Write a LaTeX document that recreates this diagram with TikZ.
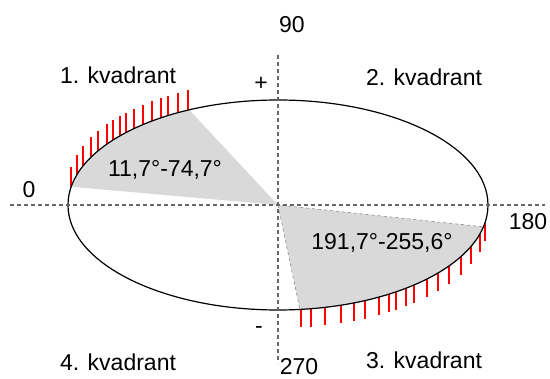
\documentclass[tikz,border=0pt]{standalone}
\usepackage{fontspec}
\setmainfont{Liberation Sans}
\usepackage{tikz}

\begin{document}
\begin{tikzpicture}[x=1pt, y=1pt, every node/.style={font=\fontsize{23}{27}\selectfont, inner sep=0pt},
	axis/.style={draw=black!60, dashed, dash pattern=on 4pt off 3pt, line width=1.2pt},
	sector/.style={fill=black!15},
	tick/.style={draw=red, line width=1.8pt}]
	\useasboundingbox (-278,-174) rectangle (272,205);
	% shaded sectors
	\fill[sector] (0,0) -- (115:210 and 105) arc[start angle=115, end angle=170, x radius=210, y radius=105] -- cycle;
	\filldraw[sector, draw=black!45, dashed, line width=0.6pt] (0,0) -- (276:210 and 105) arc[start angle=276, end angle=348, x radius=210, y radius=105] -- cycle;
	% red marks
	\foreach \x in {-207,-201,-195,-187,-180,-171,-165,-158,-152,-144,-135,-126,-117,-110,-100,-90}
		\draw[tick] ({\x},{105*sqrt(1-(\x/210)^2)}) -- ++(0,20);
	\foreach \x in {23,33,47,63,76,87,101,111,118,128,136,149,160,171,183,193,202,207}
		\draw[tick] ({\x},{-105*sqrt(1-(\x/210)^2)}) -- ++(0,-18);
	\draw[line width=1.2pt] (0,0) ellipse[x radius=210, y radius=105];
	% axes
	\coordinate (W) at (-268,0);
	\coordinate (E) at (267,0);
	\coordinate (N) at (0,150);
	\coordinate (S) at (0,-158);
	\draw[axis] (W) -- (E);
	\draw[axis] (N) -- (S);
	% labels
	\node (d90) at (14,180) {90};
	\node (d0) at (-249,15) {0};
	\node (d180) at (250,-17) {180};
	\node (d270) at (21,-162) {270};
	\node (plus) at (-17,121) {+};
	\node (minus) at (-19,-125) {-};
	\node (q1) at (-160,130) {1. kvadrant};
	\node (q2) at (146,128) {2. kvadrant};
	\node (q3) at (146,-155) {3. kvadrant};
	\node (q4) at (-160,-157) {4. kvadrant};
	\node (s1) at (-113,35) {11,7°-74,7°};
	\node (s2) at (104,-38) {191,7°-255,6°};
\end{tikzpicture}
\end{document}
